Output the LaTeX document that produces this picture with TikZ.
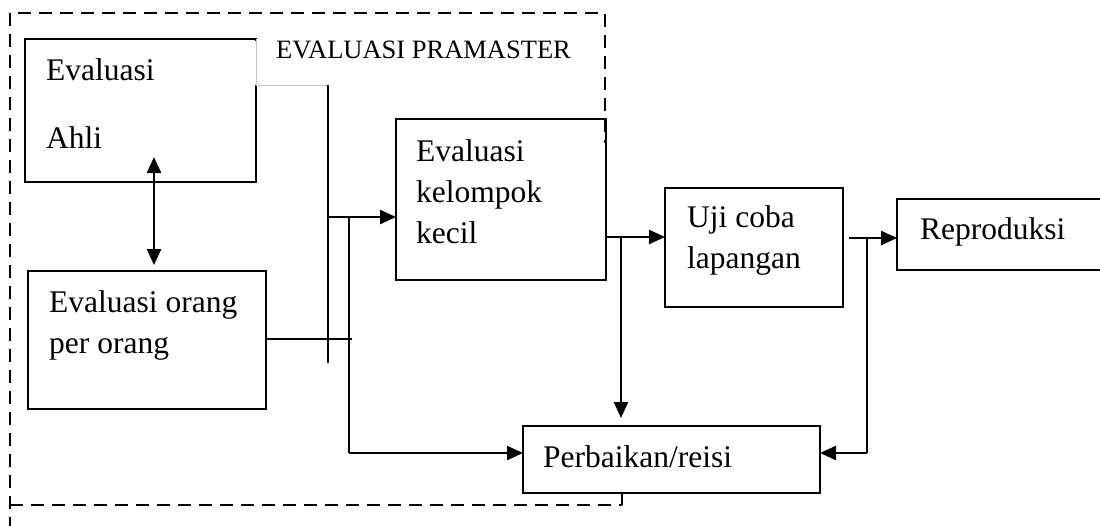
\documentclass[tikz,border=0pt]{standalone}
\usepackage{fontspec}
\setmainfont{Liberation Serif}
\usetikzlibrary{arrows.meta}
\tikzset{
  box/.style={draw, line width=2.2pt, inner sep=0pt, outer sep=0pt, anchor=north west},
  txt/.style={anchor=base west, inner sep=0pt, font=\fontsize{31.5}{41}\selectfont},
  conn/.style={line width=2.4pt},
  thin/.style={line width=1.8pt},
  arr/.style={line width=2.4pt, -{Triangle[length=16pt,width=14pt]}},
  darr/.style={line width=2.4pt, {Triangle[length=16pt,width=14pt]}-{Triangle[length=16pt,width=14pt]}},
  dashbox/.style={line width=2.6pt, dash pattern=on 13pt off 8pt}
}
\begin{document}
\begin{tikzpicture}[x=1pt,y=-1pt]
\useasboundingbox (0,0) rectangle (1100,525);
% dashed frame
\draw[dashbox] (10,530) -- (10,13) -- (605,13) -- (605,143);
\draw[dashbox] (10,505) -- (622,505);
% boxes
\node[box, minimum width=231pt, minimum height=143pt] (ahli) at (25,39) {};
\node[box, minimum width=238pt, minimum height=138pt] (orang) at (28,271) {};
\node[box, minimum width=210pt, minimum height=161pt] (kel) at (396,119) {};
\node[box, minimum width=178pt, minimum height=119pt] (uji) at (665,188) {};
\node[box, minimum width=215pt, minimum height=71pt] (rep) at (897,199) {};
\node[box, fill=white, minimum width=297pt, minimum height=67pt] (perb) at (523,426) {};
% partly hidden corner of the Ahli box
\draw[white, line width=3pt] ([yshift=-1.6pt]ahli.north east) -- (256,85);
\coordinate (ga) at (256,85);
\coordinate (lat) at (328,85);
\draw[gray!45, line width=0.8pt] (ahli.north east) -- (ga) -- (lat);
% texts
\node[txt] (t1) at (46,80) {Evaluasi};
\node[txt] (t2) at (46,148) {Ahli};
\node[anchor=base west, inner sep=0pt, font=\fontsize{26.5}{30}\selectfont] (tp) at (276,58) {EVALUASI PRAMASTER};
\node[txt] (t3) at (49,312) {Evaluasi orang};
\node[txt] (t4) at (49,353) {per orang};
\node[txt] (t5) at (416,161) {Evaluasi};
\node[txt] (t6) at (416,202) {kelompok};
\node[txt] (t7) at (416,243) {kecil};
\node[txt] (t8) at (687,227) {Uji coba};
\node[txt] (t9) at (687,268) {lapangan};
\node[txt] (t10) at (920,239) {Reproduksi};
\node[txt] (t11) at (543,467) {Perbaikan/reisi};
% coordinates for connectors
\coordinate (a1) at (154,157);
\coordinate (a2) at (154,265);
\coordinate (lab) at (328,363);
\coordinate (o2) at (352,339);
\coordinate (k0) at (328,217);
\coordinate (k1) at (kel.west |- k0);
\coordinate (b0) at (349,217);
\coordinate (b1) at (349,453);
\coordinate (p1) at (perb.west |- b1);
\coordinate (k2) at (kel.east |- 0,237);
\coordinate (u1) at (uji.west |- k2);
\coordinate (c0) at (621,237);
\coordinate (c1) at (621,418);
\coordinate (r0) at (849,238);
\coordinate (r1) at (rep.west |- r0);
\coordinate (d0) at (867,238);
\coordinate (d1) at (867,453);
\coordinate (p2) at (perb.east |- d1);
\coordinate (pb) at (622,493);
\coordinate (pb2) at (622,505);
% connectors
\draw[darr] (a1) -- (a2);
\draw[thin] (lat) -- (lab);
\draw[thin] (orang.east |- o2) -- (o2);
\draw[arr] (k0) -- (k1);
\draw[conn] (b0) -- (b1);
\draw[arr] (b1) -- (p1);
\draw[arr] (k2) -- (u1);
\draw[arr] (c0) -- (c1);
\draw[arr] (r0) -- (r1);
\draw[conn] (d0) -- (d1);
\draw[arr] (d1) -- (p2);
\draw[conn] (pb) -- (pb2);
\end{tikzpicture}
\end{document}
